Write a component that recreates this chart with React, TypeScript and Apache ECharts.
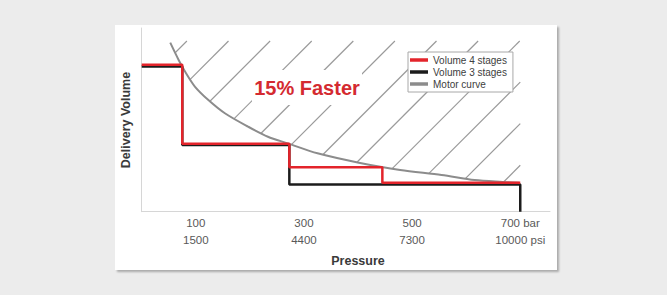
import React, { useEffect, useRef } from "react";
import * as echarts from "echarts";

// Pressure (bar) tick labels and their psi equivalents
const barTicks = [100, 300, 500, 700];
const barLabels = ["100", "300", "500", "700 bar"];
const psiLabels = ["1500", "4400", "7300", "10000 psi"];

// Step curves: [pressure (bar), relative delivery volume]
const volume4Stages: [number, number][] = [
  [0, 80.0], [75, 80.0], [75, 37.0], [273, 37.0], [273, 24.2],
  [445, 24.2], [445, 15.8], [700, 15.8],
];
const volume3Stages: [number, number][] = [
  [0, 79.0], [75, 79.0], [75, 36.3], [273, 36.3], [273, 14.8],
  [700, 14.8], [700, 0],
];
// Motor power limit curve
const motorCurve: [number, number][] = [
  [52.8, 92.0], [68.3, 82.6], [80.4, 76.2], [98.7, 68.0], [123.3, 60.8],
  [153.8, 53.6], [196.7, 46.3], [233.4, 40.8], [270.1, 37.2], [325.1, 31.8],
  [401.5, 26.7], [478, 22.7], [554.5, 20.0], [615.6, 17.2], [667.5, 16.2],
  [698, 15.8],
];
// Hatched region bounds (above motor curve)
const hatchTop = 92.9;
const hatchRight = 700;

const FONT = '"Liberation Sans", Arial, sans-serif';
const HATCH_PHASE = 15;
const HATCH_STEP = 41.6;

export default function App() {
  const ref = useRef<HTMLDivElement>(null);
  useEffect(() => {
    if (!ref.current) return;
    const chart = echarts.init(ref.current, undefined, { renderer: "svg" });
    const option: any = {
      animation: false,
      backgroundColor: "transparent",
      grid: { left: 141.7, right: 117, top: 28, bottom: 83.3 },
      xAxis: {
        type: "value",
        min: 0,
        max: 755,
        interval: 100,
        axisLine: { show: true, lineStyle: { color: "#d6d6d6", width: 1 } },
        axisTick: { show: false },
        splitLine: { show: false },
        axisLabel: {
          interval: 0,
          showMinLabel: true,
          showMaxLabel: true,
          margin: 3,
          lineHeight: 17,
          fontSize: 11.5,
          color: "#595959",
          fontFamily: FONT,
          formatter: (v: number) => {
            const i = barTicks.indexOf(Math.round(v));
            return i >= 0 ? barLabels[i] + "\n" + psiLabels[i] : "";
          },
        },
      },
      yAxis: {
        type: "value",
        min: 0,
        max: 100,
        axisLine: { show: true, lineStyle: { color: "#d6d6d6", width: 1 } },
        axisTick: { show: false },
        axisLabel: { show: false },
        splitLine: { show: false },
      },
      legend: {
        data: ["Volume 4 stages", "Volume 3 stages", "Motor curve"],
        orient: "vertical",
        left: 408,
        top: 52,
        padding: [3, 6, 3, 2],
        itemGap: 2,
        itemWidth: 18,
        itemHeight: 3.5,
        icon: "rect",
        backgroundColor: "#ffffff",
        borderColor: "#a8a8a8",
        borderWidth: 1,
        borderRadius: 0,
        textStyle: { fontSize: 10, color: "#404040", fontFamily: FONT },
      },
      graphic: [
        {
          type: "rect",
          z: 20,
          shape: { x: 252, y: 70, width: 110, height: 35 },
          style: { fill: "#ffffff" },
        },
        {
          type: "text",
          z: 21,
          x: 307,
          y: 88,
          style: {
            text: "15% Faster",
            font: `bold 20px ${FONT}`,
            fill: "#d42a30",
            textAlign: "center",
            textVerticalAlign: "middle",
            align: "center",
            verticalAlign: "middle",
          },
        },
        {
          type: "text",
          z: 21,
          x: 126,
          y: 120,
          rotation: Math.PI / 2,
          style: {
            text: "Delivery Volume",
            font: `bold 12.5px ${FONT}`,
            fill: "#3a3a3a",
            textAlign: "center",
            textVerticalAlign: "middle",
            align: "center",
            verticalAlign: "middle",
          },
        },
        {
          type: "text",
          z: 21,
          x: 358,
          y: 261,
          style: {
            text: "Pressure",
            font: `bold 12.5px ${FONT}`,
            fill: "#3a3a3a",
            textAlign: "center",
            textVerticalAlign: "middle",
            align: "center",
            verticalAlign: "middle",
          },
        },
      ],
      series: [
        {
          type: "custom",
          silent: true,
          z: 1,
          data: [[0, 0]],
          renderItem: (_params: any, api: any) => {
            const pts = motorCurve.map((p) => api.coord(p));
            const topY = api.coord([0, hatchTop])[1];
            const rightX = api.coord([hatchRight, 0])[0];
            const children: any[] = [];
            const k0 = pts[0][0] + pts[0][1] + HATCH_PHASE;
            for (let k = k0; k < 5000; k += HATCH_STEP) {
              let hit: number[] | null = null;
              for (let i = 0; i < pts.length - 1; i++) {
                const a = pts[i];
                const b = pts[i + 1];
                const ka = a[0] + a[1];
                const kb = b[0] + b[1];
                if (k >= ka && k <= kb) {
                  const t = (k - ka) / (kb - ka);
                  hit = [a[0] + t * (b[0] - a[0]), a[1] + t * (b[1] - a[1])];
                  break;
                }
              }
              if (!hit || hit[0] > rightX) break;
              let ex = k - topY;
              let ey = topY;
              if (ex > rightX) {
                ex = rightX;
                ey = k - rightX;
              }
              children.push({
                type: "line",
                shape: { x1: hit[0], y1: hit[1], x2: ex, y2: ey },
                style: { stroke: "#9a9a9a", lineWidth: 1.2 },
              });
            }
            return { type: "group", children };
          },
        },
        {
          name: "Motor curve",
          type: "line",
          data: motorCurve,
          smooth: 0.3,
          symbol: "none",
          z: 2,
          color: "#8c8c8c",
          lineStyle: { color: "#8c8c8c", width: 2 },
        },
        {
          name: "Volume 3 stages",
          type: "line",
          data: volume3Stages,
          symbol: "none",
          z: 3,
          color: "#1c1c1c",
          lineStyle: { color: "#1c1c1c", width: 2.5 },
        },
        {
          name: "Volume 4 stages",
          type: "line",
          data: volume4Stages,
          symbol: "none",
          z: 4,
          color: "#e3242b",
          lineStyle: { color: "#e3242b", width: 2.5 },
        },
      ],
    };
    chart.setOption(option);
    return () => chart.dispose();
  }, []);

  return (
    <div
      style={{
        position: "absolute",
        left: 0,
        top: 0,
        width: 667,
        height: 295,
        background: "#ececec",
        overflow: "hidden",
      }}
    >
      <div
        style={{
          position: "absolute",
          left: 115,
          top: 25,
          width: 442,
          height: 245,
          background: "#ffffff",
          boxShadow: "2px 2px 2px rgba(0,0,0,0.28)",
        }}
      />
      <div
        ref={ref}
        style={{ position: "absolute", left: 0, top: 0, width: 667, height: 295 }}
      />
    </div>
  );
}
